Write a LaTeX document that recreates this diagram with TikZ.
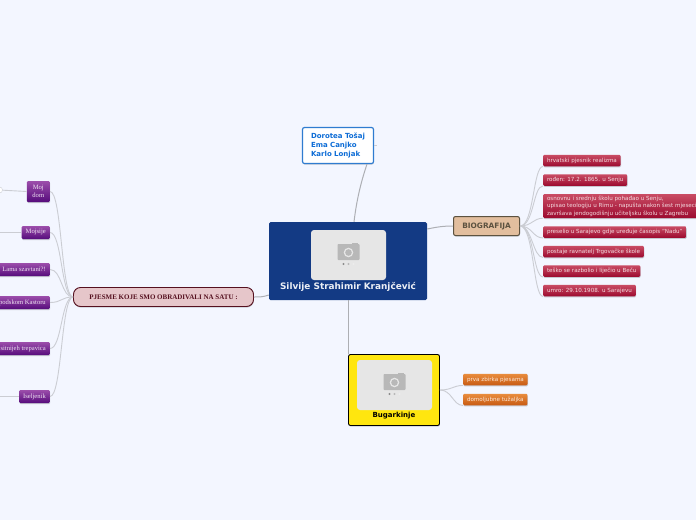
\documentclass[tikz,border=0pt]{standalone}
\usepackage{fontspec}
\setmainfont{DejaVu Sans}
\newfontfamily\poemfont{Liberation Serif}
\usetikzlibrary{shadows,positioning}
\definecolor{paper}{HTML}{F3F6FF}
\definecolor{rootblue}{HTML}{133A84}
\definecolor{linegrey}{HTML}{CBCDD3}
\definecolor{stemgrey}{HTML}{ADAFB4}
\definecolor{photogrey}{HTML}{E6E6E6}
\definecolor{camgrey}{HTML}{B8B8B8}
\definecolor{redtop}{HTML}{C94C64}
\definecolor{redbottom}{HTML}{9C0A2F}
\definecolor{orangetop}{HTML}{E98D3E}
\definecolor{orangebottom}{HTML}{C85A12}
\definecolor{violettop}{HTML}{9C4EAB}
\definecolor{violetbottom}{HTML}{560C7C}
\definecolor{authorblue}{HTML}{0C6CD6}
\definecolor{authorline}{HTML}{2F7CD0}
\definecolor{biofill}{HTML}{E2BE9E}
\definecolor{bioline}{HTML}{5C5240}
\definecolor{poemsfill}{HTML}{E6C6CA}
\definecolor{poemsline}{HTML}{55101F}
\definecolor{songyellow}{HTML}{FFE60F}

\begin{document}
\begin{tikzpicture}[
    x=1pt, y=-1pt,
    photo/.style={
        rectangle, rounded corners=3pt,
        fill=photogrey,
        minimum width=75pt, minimum height=50pt,
        inner sep=0pt
    },
    camera/.pic={
        \fill[camgrey, rounded corners=0.8pt] (-11,-8) rectangle (11,8);
        \fill[camgrey] (3,-9) rectangle (9,-7);
        \fill[photogrey] (0,0.5) circle (4.8);
        \fill[camgrey] (0,0.5) circle (3.3);
        \fill[gray!90] (-5,12) circle (1.1);
        \fill[camgrey] (0,12) circle (1.1);
        \fill[gray!15] (5,12) circle (1.1);
    },
    leafshadow/.style={drop shadow={shadow xshift=0.4pt, shadow yshift=-1.1pt, fill=black, opacity=0.18}},
    redleaf/.style={
        rectangle, rounded corners=1.2pt, anchor=west,
        top color=redtop, bottom color=redbottom,
        text=white!80!redtop, font=\fontsize{5.6}{7.4}\selectfont,
        align=left, inner sep=0pt, inner xsep=3.8pt,
        minimum height=11.5pt, leafshadow
    },
    orangeleaf/.style={
        rectangle, rounded corners=1.2pt, anchor=west,
        top color=orangetop, bottom color=orangebottom,
        text=white!80!orangetop, font=\fontsize{5.6}{7}\selectfont,
        inner sep=0pt, inner xsep=3.8pt,
        minimum height=11.5pt, leafshadow
    },
    poemleaf/.style={
        rectangle, rounded corners=1.2pt, anchor=east,
        top color=violettop, bottom color=violetbottom,
        text=white!85!violettop, font=\poemfont\fontsize{6.6}{8.2}\selectfont,
        align=center, inner sep=0pt, inner xsep=4pt,
        minimum height=13pt, leafshadow
    },
    branch/.style={draw=linegrey, line width=0.9pt},
    stem/.style={draw=stemgrey, line width=1pt}
]

\useasboundingbox[fill=paper] (0,0) rectangle (696,520);

% main nodes
\node[fill=rootblue, rounded corners=1.5pt, minimum width=158pt, minimum height=78pt] (root) at (348,261) {};
\node[photo] (rootphoto) at (348.5,255) {};
\pic at (348.5,252) {camera};
\node[font=\bfseries\fontsize{8.9}{10}\selectfont, text=white!92!rootblue] (roottext) at (348,287) {Silvije Strahimir Kranjčević};

\node[draw=authorline, line width=1.2pt, fill=white, rounded corners=2pt,
    minimum width=71pt, minimum height=36pt, align=left, text=authorblue,
    font=\bfseries\fontsize{7}{8.7}\selectfont, inner sep=0pt, text width=54pt,
    leafshadow] (authors) at (338,145.5) {Dorotea Tošaj\\Ema Canjko\\Karlo Lonjak};
\coordinate (authorsfold) at (377,145);

\node[draw=bioline, line width=1pt, fill=biofill, rounded corners=2pt,
    minimum width=66pt, minimum height=19pt, inner sep=0pt, text=bioline,
    font=\bfseries\fontsize{7.4}{8}\selectfont, leafshadow] (bio) at (486.5,226) {BIOGRAFIJA};

\node[draw=poemsline, line width=0.9pt, fill=poemsfill, rounded corners=7pt,
    minimum width=180pt, minimum height=19pt, inner sep=0pt, text=poemsline,
    font=\poemfont\bfseries\fontsize{7}{8}\selectfont, leafshadow] (poems) at (163.5,297) {PJESME KOJE SMO OBRADIVALI NA SATU :};

\node[draw=black, line width=0.9pt, fill=songyellow, rounded corners=2pt,
    minimum width=91pt, minimum height=71pt, leafshadow] (song) at (394,390) {};
\node[photo] (songphoto) at (394.5,385) {};
\pic at (394.5,382) {camera};
\node[font=\bfseries\fontsize{7}{8}\selectfont] (songtext) at (394,415.5) {Bugarkinje};

% biography
\node[redleaf] (b1) at (543,160.5) {hrvatski pjesnik realizma};
\node[redleaf] (b2) at (543,180) {rođen: 17.2. 1865. u Senju};
\node[redleaf, minimum height=24pt] (b3) at (543,206) {osnovnu i srednju školu pohađao u Senju,\\upisao teologiju u Rimu - napušta nakon šest mjeseci\\završava jendogodišnju učiteljsku školu u Zagrebu};
\node[redleaf] (b4) at (543,232) {preselio u Sarajevo gdje uređuje časopis "Nadu"};
\node[redleaf] (b5) at (543,251.5) {postaje ravnatelj Trgovačke škole};
\node[redleaf] (b6) at (543,271) {teško se razbolio i liječio u Beču};
\node[redleaf] (b7) at (543,290.5) {umro: 29.10.1908. u Sarajevu};

% poems
\node[poemleaf, minimum width=23pt, minimum height=21pt] (p1) at (50,191.5) {Moj\\dom};
\node[poemleaf] (p2) at (50,232.5) {Mojsije};
\node[poemleaf] (p3) at (50,269.5) {Lama szavtani?!};
\node[poemleaf] (p4) at (50,302.5) {podskom Kastoru};
\node[poemleaf] (p5) at (50,348.5) {sitnijeh trepavica};
\node[poemleaf] (p6) at (50,396.5) {Iseljenik};
\node[circle, draw=linegrey, fill=white, minimum size=6pt, inner sep=0pt] (p1fold) at (-0.5,190) {};
\coordinate (p2end) at (-2,232.5);
\coordinate (p6end) at (-2,396.5);

% song
\node[orangeleaf] (o1) at (463,379.5) {prva zbirka pjesama};
\node[orangeleaf] (o2) at (463,399.5) {domoljubne tužaljka};

% connectors from the centre
\draw[stem] (root.north) ++(6,0) coordinate (rootup) .. controls +(3,-25) and +(-5,15) .. (authors.south -| 367,0);
\draw[stem] (root.east) ++(0,-32) coordinate (rootright) .. controls +(10,-2) and +(-10,0) .. (bio.west);
\draw[stem] (root.south) -- (song.north -| root.south);
\draw[stem] (root.west) ++(0,34) coordinate (rootleft) .. controls +(-6,2) and +(6,0) .. (poems.east);
\draw[branch] (authors.east) ++(0,-0.5) -- (authorsfold);

\draw[branch] (bio.east) .. controls +(14,0) and +(-10,0) .. (b1.south west);
\draw[branch] (bio.east) .. controls +(14,0) and +(-10,0) .. (b2.south west);
\draw[branch] (bio.east) .. controls +(12,0) and +(-10,0) .. (b3.south west);
\draw[branch] (bio.east) .. controls +(12,0) and +(-10,0) .. (b4.south west);
\draw[branch] (bio.east) .. controls +(12,0) and +(-10,0) .. (b5.south west);
\draw[branch] (bio.east) .. controls +(14,0) and +(-10,0) .. (b6.south west);
\draw[branch] (bio.east) .. controls +(14,0) and +(-10,0) .. (b7.south west);

\draw[branch] (poems.west) .. controls +(-12,0) and +(12,0) .. (p1.east);
\draw[branch] (poems.west) .. controls +(-12,0) and +(12,0) .. (p2.east);
\draw[branch] (poems.west) .. controls +(-12,0) and +(12,0) .. (p3.east);
\draw[branch] (poems.west) .. controls +(-12,0) and +(12,0) .. (p4.east);
\draw[branch] (poems.west) .. controls +(-12,0) and +(12,0) .. (p5.east);
\draw[branch] (poems.west) .. controls +(-12,0) and +(12,0) .. (p6.east);
\draw[branch] (p1.west) -- (p1fold);
\draw[branch] (p2.west) -- (p2end);
\draw[branch] (p6.west) -- (p6end);

\draw[branch] (song.east) .. controls +(12,0) and +(-10,0) .. (o1.south west);
\draw[branch] (song.east) .. controls +(12,0) and +(-10,0) .. (o2.south west);

\end{tikzpicture}
\end{document}
